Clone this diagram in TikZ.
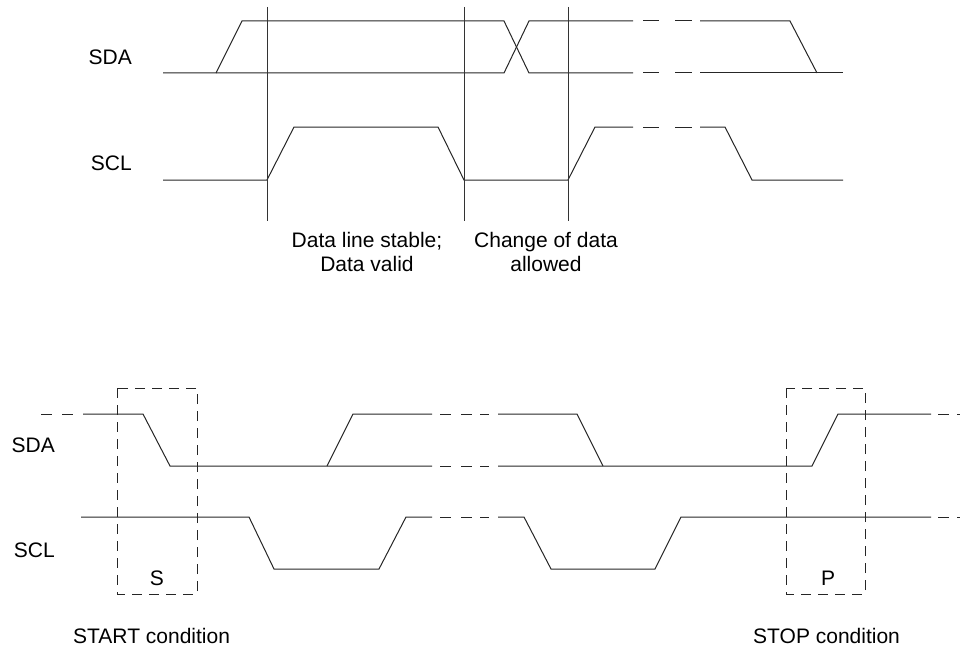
\documentclass[tikz,border=0pt]{standalone}
\usepackage{fontspec}
\setmainfont{Liberation Sans}
\begin{document}
\begin{tikzpicture}[x=1pt,y=-1pt,
  sig/.style={line width=1pt,black!85,line join=miter},
  mark line/.style={line width=1pt,black!80},
  cbox/.style={line width=1pt,black!85,dash pattern=on 10pt off 7pt},
  lbl/.style={font=\fontsize{21}{24}\selectfont,inner sep=0pt}]
\useasboundingbox (0,0) rectangle (960,650);

% ---------- top diagram ----------
\node[lbl,anchor=base east] (tsda) at (132,65) {SDA};
\node[lbl,anchor=base east] (tscl) at (132,170) {SCL};

% SDA
\draw[sig] (163,73) -- (216,73) -- (242,21) -- (504,21) -- (529,73) -- (633,73);
\draw[sig] (216,73) -- (504,73) -- (529,21) -- (633,21);
\foreach \yy in {21,73}{
  \draw[sig] (643,\yy) -- (659,\yy);
  \draw[sig] (675,\yy) -- (692,\yy);
}
\draw[sig] (700,21) -- (790,21) -- (817,73);
\draw[sig] (700,73) -- (843,73);

% SCL
\draw[sig] (163,180) -- (267,180) -- (294,127) -- (438,127) -- (464,180)
  -- (568,180) -- (595,127) -- (633,127);
\draw[sig] (643,127) -- (659,127);
\draw[sig] (675,127) -- (692,127);
\draw[sig] (700,127) -- (725,127) -- (752,180) -- (843,180);

% markers
\coordinate (v1t) at (267,7);   \coordinate (v1b) at (267,221);
\coordinate (v2t) at (464,7);   \coordinate (v2b) at (464,221);
\coordinate (v3t) at (568,7);   \coordinate (v3b) at (568,221);
\draw[mark line] (v1t) -- (v1b);
\draw[mark line] (v2t) -- (v2b);
\draw[mark line] (v3t) -- (v3b);

\node[lbl,anchor=base] (stab1) at (367,247) {Data line stable;};
\node[lbl,anchor=base] (stab2) at (367,271) {Data valid};
\node[lbl,anchor=base] (chg1) at (546,247) {Change of data};
\node[lbl,anchor=base] (chg2) at (546,271) {allowed};

% ---------- bottom diagram ----------
\node[lbl,anchor=base east] (bsda) at (55,452) {SDA};
\node[lbl,anchor=base east] (bscl) at (55,557) {SCL};

% SDA
\draw[sig] (41,414) -- (52,414);
\draw[sig] (62,414) -- (73,414);
\draw[sig] (83,414) -- (143,414) -- (170,466) -- (432,466);
\draw[sig] (327,466) -- (353,414) -- (432,414);
\foreach \yy in {414,466,517}{
  \draw[sig] (440,\yy) -- (451,\yy);
  \draw[sig] (461,\yy) -- (472,\yy);
  \draw[sig] (480,\yy) -- (489,\yy);
}
\draw[sig] (498,414) -- (577,414) -- (603,466);
\draw[sig] (498,466) -- (812,466) -- (838,414) -- (931,414);
\foreach \yy in {414,517}{
  \draw[sig] (938,\yy) -- (949,\yy);
  \draw[sig] (957,\yy) -- (962,\yy);
}

% SCL
\draw[sig] (81,517) -- (249,517) -- (274,569) -- (379,569) -- (406,517) -- (432,517);
\draw[sig] (498,517) -- (524,517) -- (551,569) -- (655,569) -- (681,517) -- (931,517);

% condition boxes
\draw[cbox] (117,388) rectangle (197,594);
\draw[cbox] (786,388) rectangle (865,594);
\node[lbl,anchor=base] (s) at (157,585) {S};
\node[lbl,anchor=base] (p) at (828,585) {P};

\node[lbl,anchor=base west] (start) at (73,643) {START condition};
\node[lbl,anchor=base west] (stop) at (753,643) {STOP condition};
\end{tikzpicture}
\end{document}
